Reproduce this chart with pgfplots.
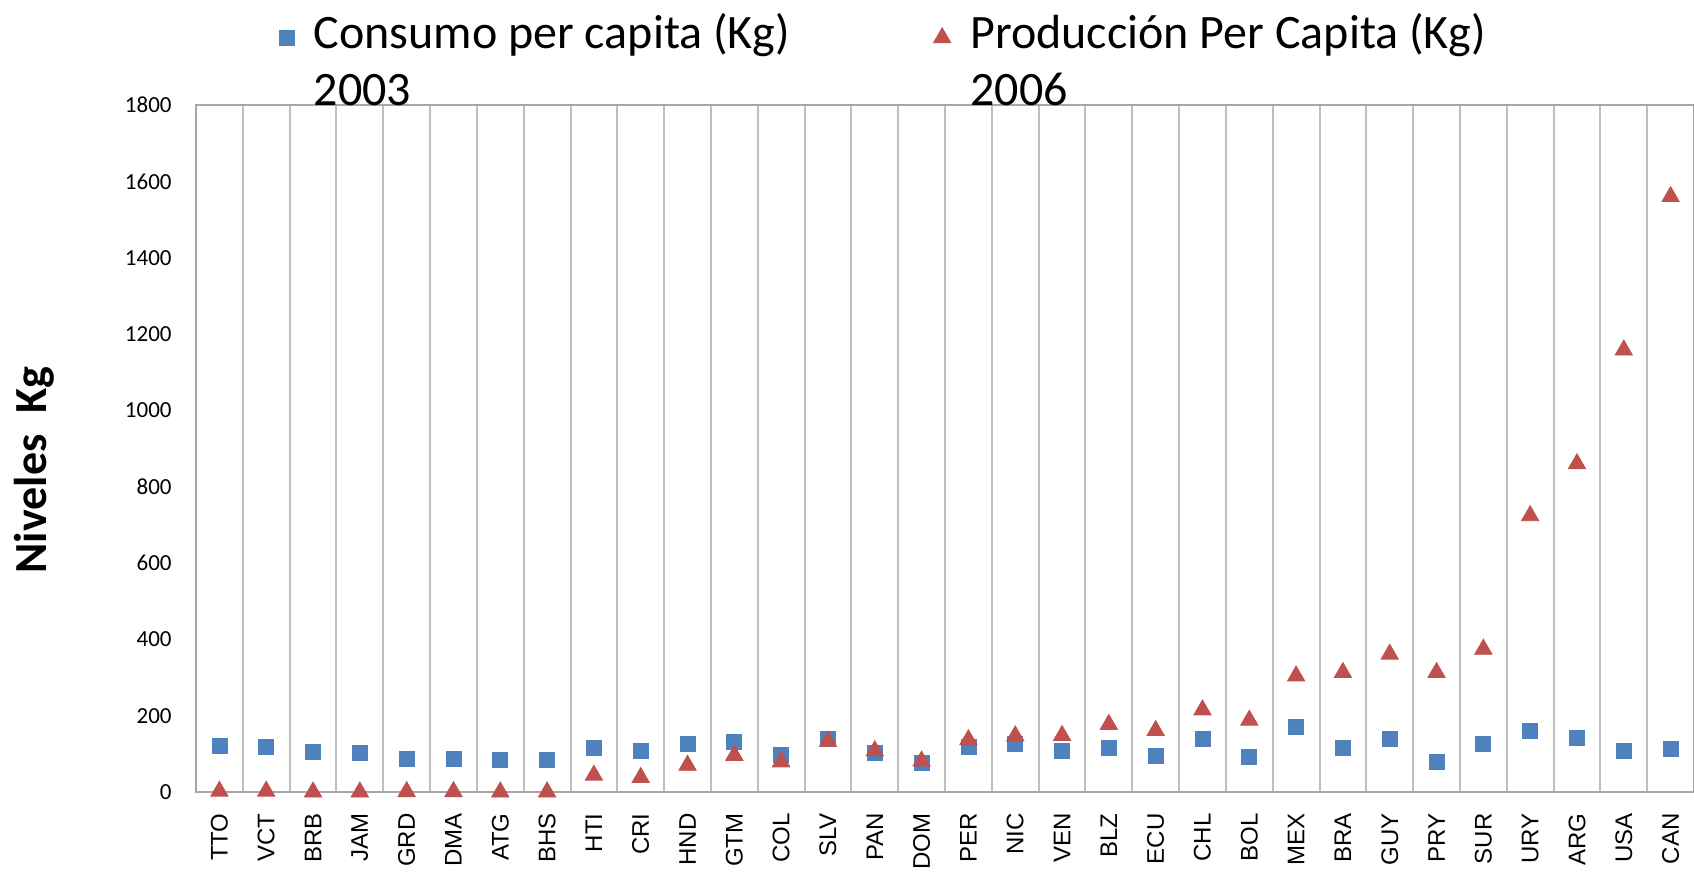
\documentclass[border=0pt]{standalone}
\usepackage{fontspec}
\setmainfont{Carlito}
\newfontfamily\arialfont{Liberation Sans}
\usepackage{pgfplots}
\pgfplotsset{compat=1.18}

\definecolor{serBlue}{HTML}{4F81BD}
\definecolor{serRed}{HTML}{C0504D}
\definecolor{gridGray}{HTML}{BFBFBF}
\definecolor{axGray}{HTML}{A6A6A6}

\begin{document}
\begin{tikzpicture}
\begin{axis}[
  name=ax,
  scale only axis,
  width=749pt, height=343.5pt,
  xmin=-0.5, xmax=31.5,
  ymin=0, ymax=1800,
  ytick={0,200,...,1800},
  xtick={0,...,31},
  xticklabels={TTO,VCT,BRB,JAM,GRD,DMA,ATG,BHS,HTI,CRI,HND,GTM,COL,SLV,PAN,DOM,PER,NIC,VEN,BLZ,ECU,CHL,BOL,MEX,BRA,GUY,PRY,SUR,URY,ARG,USA,CAN},
  minor xtick={0.5,1.5,...,30.5},
  xminorgrids,
  minor grid style={draw=gridGray, line width=1pt},
  major tick length=0pt, minor tick length=0pt,
  axis line style={draw=axGray, line width=1.2pt},
  xticklabel style={font=\arialfont\fontsize{12}{14}\selectfont, rotate=90, anchor=east, inner xsep=10.5pt, inner ysep=0pt},
  yticklabel style={font=\fontsize{11.5}{13}\selectfont, inner sep=0pt, xshift=-12pt},
  /pgf/number format/assume math mode=true,
  /pgf/number format/1000 sep={},
  ylabel={Niveles\ \ Kg},
  ylabel style={font=\bfseries\fontsize{23}{26}\selectfont, at={(axis description cs:-0.1081,0.4687)}, anchor=center, rotate=0},
  legend columns=2,
  legend image post style={yshift=11.6pt},
  legend style={
    at={(axis description cs:0.0552,1.134)}, anchor=north west,
    draw=none, fill=none, inner sep=0pt,
    font=\fontsize{24}{28.6}\selectfont,
    nodes={inner sep=0pt},
    cells={align=left, anchor=west},
    /tikz/every odd column/.append style={column sep=9.8pt},
    /tikz/every even column/.append style={column sep=71.7pt},
  },
  clip=false,
]
\addplot[only marks, mark=square*, mark size=3.75pt, color=serBlue] coordinates {
 (0,122) (1,118) (2,105) (3,103) (4,88) (5,86) (6,83) (7,83)
 (8,116) (9,109) (10,126) (11,131) (12,97) (13,140) (14,103) (15,77)
 (16,119) (17,125) (18,109) (19,116) (20,94) (21,140) (22,93) (23,171)
 (24,116) (25,140) (26,79) (27,126) (28,161) (29,142) (30,108) (31,113)};
\addlegendentry{Consumo per capita (Kg)\\2003}
\addplot[only marks, mark=triangle*, mark size=5pt, color=serRed] coordinates {
 (0,2) (1,2) (2,0) (3,0) (4,1) (5,1) (6,0) (7,0)
 (8,44) (9,38) (10,70) (11,96) (12,79) (13,133) (14,108) (15,81)
 (16,137) (17,147) (18,148) (19,177) (20,161) (21,215) (22,188) (23,304)
 (24,313) (25,361) (26,313) (27,374) (28,724) (29,860) (30,1158) (31,1560)};
\addlegendentry{Producción Per Capita (Kg)\\2006}
\end{axis}
\pgfresetboundingbox
\path ([xshift=-98pt,yshift=-40pt]ax.south west) rectangle ([yshift=52.5pt]ax.north east);
\end{tikzpicture}
\end{document}
